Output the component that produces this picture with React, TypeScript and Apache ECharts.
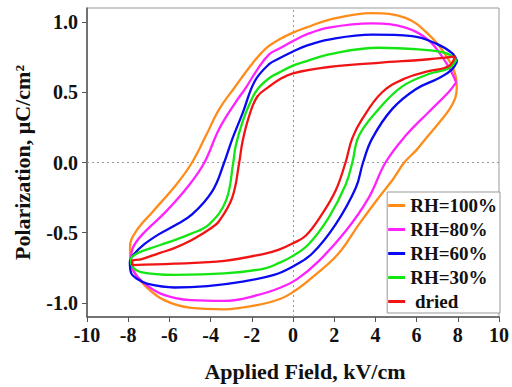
import React, { useEffect, useRef } from "react";
import * as echarts from "echarts";

const seriesNames = ["RH=100%", "RH=80%", "RH=60%", "RH=30%", " dried"];
const seriesColors = ["#FF8C1A", "#FF22FF", "#0A0AF0", "#14E614", "#F01414"];

const xTicks = [-10, -8, -6, -4, -2, 0, 2, 4, 6, 8, 10];
const yTicks = [-1.0, -0.5, 0.0, 0.5, 1.0];

// Each loop: from the positive tip, upper (descending-field) branch to the negative tip,
// then lower (ascending-field) branch back to the positive tip.
const loop100: number[][] = [
  [7.95, 0.53], [7.85, 0.64], [7.39, 0.77], [6.59, 0.91], [5.46, 1.03], [3.84, 1.063],
  [1.74, 1.016], [0.63, 0.96], [0, 0.925], [-0.68, 0.875], [-1.3, 0.815], [-2.0, 0.7],
  [-2.78, 0.545], [-3.58, 0.38], [-4.23, 0.19], [-4.9, 0.0], [-5.68, -0.16], [-6.81, -0.35],
  [-7.62, -0.49], [-7.91, -0.6], [-7.9, -0.7], [-7.75, -0.77], [-7.2, -0.875], [-6.25, -0.98],
  [-4.95, -1.035], [-3.34, -1.045], [-1.74, -1.015], [-0.6, -0.97], [0.13, -0.91], [0.92, -0.82],
  [2.2, -0.65], [3.2, -0.44], [4.16, -0.25], [4.9, -0.11], [5.4, 0.0], [6.0, 0.09], [6.5, 0.18],
  [7.07, 0.28], [7.6, 0.38], [7.88, 0.46], [7.95, 0.53],
];
const loop80: number[][] = [
  [7.92, 0.57], [7.71, 0.64], [7.39, 0.72], [6.59, 0.87], [5.46, 0.96], [3.84, 0.99], [1.74, 0.96],
  [0.63, 0.91], [0, 0.865], [-0.68, 0.81], [-1.16, 0.77], [-1.74, 0.66], [-2.3, 0.53], [-2.78, 0.43],
  [-3.58, 0.24], [-4.3, 0.0], [-5.04, -0.16], [-6.17, -0.35], [-7.3, -0.51], [-7.78, -0.61],
  [-7.86, -0.69], [-7.75, -0.77], [-7.38, -0.84], [-6.4, -0.935], [-4.95, -0.98], [-3.34, -0.985],
  [-1.74, -0.945], [-0.6, -0.89], [0.2, -0.83], [1.26, -0.7], [2.55, -0.49], [3.68, -0.25],
  [4.49, 0.0], [5.46, 0.19], [6.59, 0.36], [7.55, 0.5], [7.92, 0.57],
];
const loop60: number[][] = [
  [7.97, 0.72], [7.71, 0.78], [6.9, 0.85], [5.78, 0.9], [3.84, 0.91], [1.74, 0.875], [0.63, 0.83],
  [0, 0.79], [-0.68, 0.74], [-1.16, 0.7], [-1.85, 0.58], [-2.45, 0.35], [-2.94, 0.17], [-3.34, 0.0],
  [-3.9, -0.2], [-4.9, -0.37], [-5.76, -0.45], [-6.5, -0.51], [-7.2, -0.58], [-7.7, -0.65],
  [-7.92, -0.71], [-7.85, -0.79], [-7.55, -0.83], [-7.05, -0.865], [-5.76, -0.89], [-4.15, -0.88],
  [-2.53, -0.85], [-0.92, -0.8], [0, -0.74], [0.92, -0.65], [2.07, -0.44], [3.05, -0.18], [3.4, 0.0],
  [3.84, 0.17], [4.81, 0.38], [5.94, 0.52], [7.07, 0.6], [7.7, 0.66], [7.97, 0.72],
];
const loop30: number[][] = [
  [7.93, 0.73], [7.39, 0.78], [6.1, 0.805], [4.16, 0.817], [1.74, 0.77], [0.63, 0.72], [0, 0.69],
  [-0.68, 0.64], [-1.16, 0.6], [-1.73, 0.52], [-2.1, 0.42], [-2.45, 0.29], [-2.78, 0.12],
  [-2.9, 0.0], [-3.25, -0.27], [-4.07, -0.44], [-5.0, -0.51], [-6.0, -0.565], [-7.0, -0.615],
  [-7.6, -0.65], [-7.87, -0.69], [-7.8, -0.74], [-7.38, -0.78], [-5.76, -0.8], [-3.34, -0.79],
  [-1.4, -0.755], [-0.68, -0.715], [0, -0.665], [0.77, -0.58], [1.74, -0.39], [2.55, -0.16],
  [2.88, 0.0], [3.2, 0.19], [4.16, 0.38], [5.29, 0.54], [6.59, 0.63], [7.55, 0.67], [7.93, 0.73],
];
const loopDried: number[][] = [
  [7.88, 0.755], [6.59, 0.735], [4.16, 0.71], [1.74, 0.68], [0, 0.635], [-0.68, 0.59],
  [-1.16, 0.54], [-1.73, 0.47], [-2.13, 0.33], [-2.45, 0.15], [-2.61, 0.0], [-2.95, -0.25],
  [-3.6, -0.42], [-4.0, -0.47], [-4.89, -0.55], [-5.76, -0.61], [-6.49, -0.645], [-7.38, -0.69],
  [-7.8, -0.7], [-7.8, -0.73], [-5.76, -0.72], [-3.34, -0.7], [-1.4, -0.65], [-0.68, -0.62],
  [0, -0.575], [0.63, -0.52], [1.4, -0.37], [2.07, -0.2], [2.55, 0.0], [2.87, 0.17], [3.36, 0.31],
  [4.33, 0.5], [5.46, 0.6], [6.59, 0.65], [7.55, 0.685], [7.88, 0.755],
];

const loops = [loop100, loop80, loop60, loop30, loopDried];

const FONT = "'Liberation Serif', 'Times New Roman', serif";

export default function App() {
  const ref = useRef<HTMLDivElement>(null);
  useEffect(() => {
    if (!ref.current) return;
    const chart = echarts.init(ref.current, undefined, { renderer: "svg" });
    const series: any[] = loops.map((d, i) => ({
      name: seriesNames[i],
      type: "line",
      data: d,
      smooth: 0.4,
      symbol: "none",
      z: 3,
      lineStyle: { color: seriesColors[i], width: 2.3 },
      itemStyle: { color: seriesColors[i] },
    }));
    series[0].markLine = {
      silent: true,
      symbol: ["none", "none"],
      label: { show: false },
      lineStyle: { type: [2, 3], color: "#999", width: 1 },
      data: [{ xAxis: 0 }, { yAxis: 0 }],
      z: 1,
    };
    chart.setOption({
      animation: false,
      backgroundColor: "#fff",
      grid: {
        left: 87,
        right: 12,
        top: 8,
        bottom: 69,
        show: true,
        borderColor: "#999",
        borderWidth: 1,
      },
      legend: {
        orient: "vertical",
        right: 12,
        top: 192,
        icon: "rect",
        itemWidth: 17,
        itemHeight: 3,
        itemGap: 5,
        padding: [4, 3, 2, 1],
        borderColor: "#999",
        borderWidth: 1,
        backgroundColor: "#fff",
        data: seriesNames,
        textStyle: {
          fontFamily: FONT,
          fontWeight: "bold",
          fontSize: 19,
          lineHeight: 19,
          color: "#111",
          padding: [0, 0, 0, 0],
        },
      },
      xAxis: {
        type: "value",
        min: -10,
        max: 10,
        interval: 2,
        name: "Applied Field, kV/cm",
        nameLocation: "middle",
        nameGap: 43,
        nameTextStyle: {
          fontFamily: FONT,
          fontWeight: "bold",
          fontSize: 22,
          color: "#111",
          padding: [0, 0, 0, 24],
        },
        axisLine: { show: true, onZero: false, lineStyle: { color: "#555", width: 1.5 } },
        axisTick: { show: true, inside: false, length: 5, lineStyle: { color: "#555" } },
        axisLabel: {
          fontFamily: FONT,
          fontWeight: "bold",
          fontSize: 20,
          color: "#111",
          margin: 8,
          customValues: xTicks,
        },
        splitLine: { show: false },
      },
      yAxis: {
        type: "value",
        min: -1.1,
        max: 1.1,
        name: "Polarization, μC/cm²",
        nameLocation: "middle",
        nameGap: 54,
        nameTextStyle: { fontFamily: FONT, fontWeight: "bold", fontSize: 22, color: "#111" },
        axisLine: { show: true, onZero: false, lineStyle: { color: "#555", width: 1.5 } },
        axisTick: {
          show: true,
          inside: false,
          length: 5,
          lineStyle: { color: "#555" },
          customValues: yTicks,
        },
        axisLabel: {
          fontFamily: FONT,
          fontWeight: "bold",
          fontSize: 20,
          color: "#111",
          margin: 9,
          customValues: yTicks,
          formatter: (v: number) => v.toFixed(1),
        },
        splitLine: { show: false },
      },
      series,
    });
    return () => chart.dispose();
  }, []);
  return (
    <div
      ref={ref}
      style={{ position: "fixed", left: 0, top: 0, width: 512, height: 387 }}
    />
  );
}
